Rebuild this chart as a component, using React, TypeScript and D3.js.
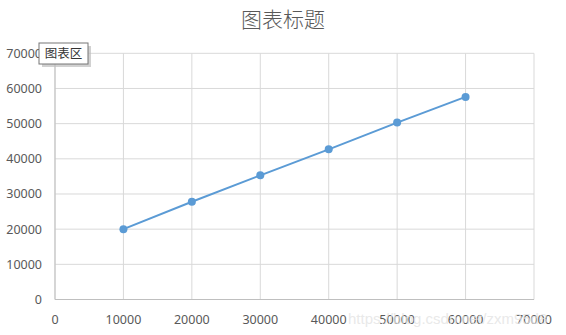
import React from "react";
import * as d3 from "d3";

const xValues = [10000, 20000, 30000, 40000, 50000, 60000];
const yValues = [20000, 27800, 35300, 42700, 50300, 57600];
const xTicks = [0, 10000, 20000, 30000, 40000, 50000, 60000, 70000];
const yTicks = [0, 10000, 20000, 30000, 40000, 50000, 60000, 70000];
const title = "图表标题";
const tooltipText = "图表区";
const watermark = "https://blog.csdn.net/zxm95d8";

const W = 566;
const H = 335;
const left = 55;
const right = 534;
const top = 53.3;
const bottom = 299.5;

export default function App() {
  const x = d3.scaleLinear().domain([0, 70000]).range([left, right]);
  const y = d3.scaleLinear().domain([0, 70000]).range([bottom, top]);
  const line = d3
    .line<number>()
    .x((_, i) => x(xValues[i]))
    .y((d) => y(d));
  const font = "'Noto Sans', 'Noto Sans CJK SC', sans-serif";
  return (
    <svg
      width={W}
      height={H}
      style={{ position: "absolute", left: 0, top: 0, background: "#fff" }}
      fontFamily={font}
    >
      <rect x={0} y={0} width={W} height={H} fill="#fff" />
      <text
        x={283}
        y={26.5}
        textAnchor="middle"
        fontSize={21}
        fill="#595959"
        fontFamily="'Noto Sans CJK SC', sans-serif"
        fontWeight={300}
      >
        {title}
      </text>
      {/* grid */}
      {yTicks.map((t) => (
        <line
          key={"gy" + t}
          x1={left}
          x2={right}
          y1={y(t)}
          y2={y(t)}
          stroke="#d9d9d9"
          strokeWidth={1}
        />
      ))}
      {xTicks.map((t) => (
        <line
          key={"gx" + t}
          x1={x(t)}
          x2={x(t)}
          y1={top}
          y2={bottom}
          stroke="#d9d9d9"
          strokeWidth={1}
        />
      ))}
      {/* axes */}
      <line x1={left} x2={left} y1={top} y2={bottom} stroke="#bfbfbf" />
      <line x1={left} x2={right} y1={bottom} y2={bottom} stroke="#bfbfbf" />
      {/* y labels */}
      {yTicks.map((t) => (
        <text
          key={"ly" + t}
          x={42}
          y={y(t) + 4.5}
          textAnchor="end"
          fontSize={12.5}
          fill="#595959"
        >
          {t}
        </text>
      ))}
      {/* x labels */}
      {xTicks.map((t) => (
        <text
          key={"lx" + t}
          x={x(t)}
          y={323.5}
          textAnchor="middle"
          fontSize={12.5}
          fill="#595959"
        >
          {t}
        </text>
      ))}
      {/* series */}
      <path d={line(yValues) || ""} fill="none" stroke="#5b9bd5" strokeWidth={2} />
      {yValues.map((v, i) => (
        <circle key={"p" + i} cx={x(xValues[i])} cy={y(v)} r={4} fill="#5b9bd5" />
      ))}
      {/* watermark */}
      <text
        x={348}
        y={323.5}
        fontSize={15}
        fill="#e3e3e3"
        fillOpacity={0.8}
        fontFamily="'Liberation Sans', sans-serif"
      >
        {watermark}
      </text>
      {/* tooltip */}
      <rect x={42} y={46} width={49} height={21} fill="#bdbdbd" opacity={0.7} />
      <rect x={39} y={43} width={49} height={21} fill="#fff" stroke="#767676" strokeWidth={1} />
      <text
        x={63.5}
        y={58}
        textAnchor="middle"
        fontSize={12.5}
        fill="#333"
        fontFamily="'Noto Sans CJK SC', sans-serif"
      >
        {tooltipText}
      </text>
    </svg>
  );
}
